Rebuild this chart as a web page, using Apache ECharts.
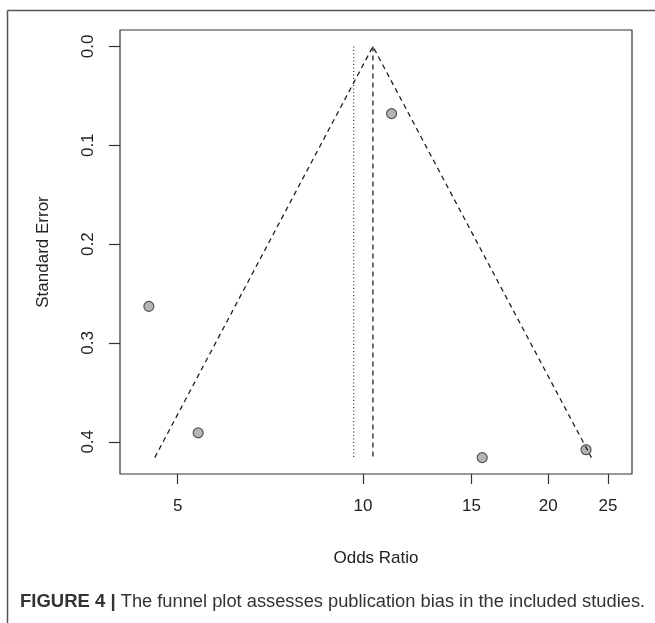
<!DOCTYPE html>
<html>
<head>
<meta charset="utf-8">
<script src="https://cdn.jsdelivr.net/npm/echarts@6/dist/echarts.min.js"></script>
<style>
html,body{margin:0;padding:0;background:#fff;}
#c{width:655px;height:623px;}
</style>
</head>
<body>
<div id="c"></div>
<script>
// Study points (odds ratio, standard error)
const studyOR = [11.13, 4.49, 5.40, 15.62, 23.03];
const studySE = [0.068, 0.263, 0.391, 0.416, 0.408];
// Funnel (pseudo 95% CI) boundary
const funnelOR = [4.59, 10.38, 23.5];
const funnelSE = [0.416, 0, 0.416];
// Summary estimate (dashed) and second reference line (dotted)
const summaryOR = [10.38, 10.38];
const summarySE = [0, 0.416];
const refOR = [9.66, 9.66];
const refSE = [0, 0.416];
// Axis ticks
const xTicks = [5, 10, 15, 20, 25];
const yTicks = [0, 0.1, 0.2, 0.3, 0.4];

const zip = (a, b) => a.map((v, i) => [v, b[i]]);
const font = 'Liberation Sans';
const ink = '#222';

const chart = echarts.init(document.getElementById('c'), null, {renderer: 'canvas'});
chart.setOption({
  animation: false,
  backgroundColor: '#fff',
  grid: {left: 120, right: 23, top: 30, bottom: 149, show: true, borderColor: '#333', borderWidth: 1.2, backgroundColor: 'transparent'},
  xAxis: {
    type: 'log', logBase: 10, min: 4.031, max: 27.35, position: 'bottom',
    name: 'Odds Ratio', nameLocation: 'middle', nameGap: 76,
    nameTextStyle: {fontFamily: font, fontSize: 17, color: ink},
    axisLine: {show: false, onZero: false},
    axisTick: {show: true, length: 10, customValues: xTicks, lineStyle: {color: '#333', width: 1.2}},
    axisLabel: {customValues: xTicks, fontFamily: font, fontSize: 17, color: ink, margin: 24,
      formatter: v => String(Math.round(v))},
    splitLine: {show: false}, minorTick: {show: false}
  },
  yAxis: {
    type: 'value', inverse: true, min: -0.0166, max: 0.4326,
    name: 'Standard Error', nameLocation: 'middle', nameGap: 68, nameRotate: 90,
    nameTextStyle: {fontFamily: font, fontSize: 17, color: ink},
    axisLine: {show: false, onZero: false},
    axisTick: {show: true, length: 11, customValues: yTicks, lineStyle: {color: '#333', width: 1.2}},
    axisLabel: {customValues: yTicks, rotate: 90, fontFamily: font, fontSize: 17, color: ink, margin: 23,
      formatter: v => v.toFixed(1)},
    splitLine: {show: false}
  },
  title: {
    text: '{b|FIGURE 4 |} The funnel plot assesses publication bias in the included studies.',
    left: 15, top: 587,
    textStyle: {fontFamily: font, fontSize: 18.3, fontWeight: 'normal', color: '#333',
      rich: {b: {fontFamily: font, fontSize: 18.5, fontWeight: 'bold', color: '#333'}}}
  },
  graphic: [
    {type: 'line', shape: {x1: 7.5, y1: 10.5, x2: 655, y2: 10.5}, style: {stroke: '#555', lineWidth: 1.5}},
    {type: 'line', shape: {x1: 7.5, y1: 10.5, x2: 7.5, y2: 623}, style: {stroke: '#555', lineWidth: 1.5}}
  ],
  series: [
    {type: 'line', data: zip(funnelOR, funnelSE), symbol: 'none', silent: true,
      lineStyle: {color: ink, width: 1.3, type: [5, 4]}},
    {type: 'line', data: zip(summaryOR, summarySE), symbol: 'none', silent: true,
      lineStyle: {color: ink, width: 1.3, type: [5, 4]}},
    {type: 'line', data: zip(refOR, refSE), symbol: 'none', silent: true,
      lineStyle: {color: ink, width: 1.1, type: [1, 2.5]}},
    {type: 'scatter', data: zip(studyOR, studySE), symbol: 'circle', symbolSize: 10,
      itemStyle: {color: '#a3a3a3', borderColor: '#333', borderWidth: 1.2}}
  ]
});
</script>
</body>
</html>
